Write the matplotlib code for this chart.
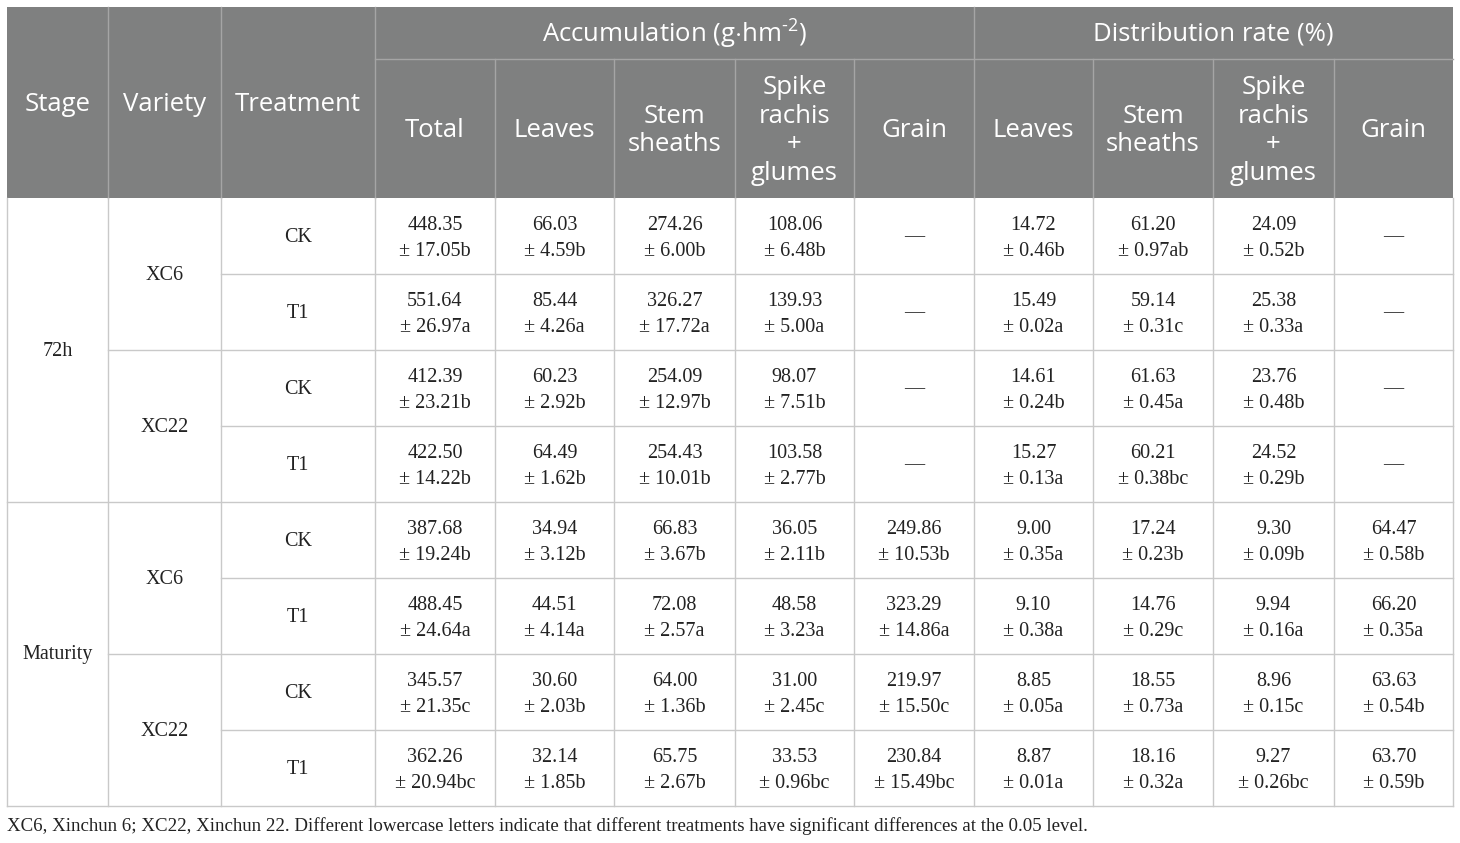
import numpy as np
import matplotlib.pyplot as plt
from matplotlib.patches import Rectangle

plt.rcParams["mathtext.fontset"] = "custom"
plt.rcParams["mathtext.rm"] = "Open Sans"
plt.rcParams["mathtext.it"] = "Open Sans:italic"

stages = ["72h", "Maturity"]
varieties = ["XC6", "XC22"]
treatments = ["CK", "T1"]

acc_cols = ["Total", "Leaves", "Stem\nsheaths", "Spike\nrachis\n+\nglumes", "Grain"]
dist_cols = ["Leaves", "Stem\nsheaths", "Spike\nrachis\n+\nglumes", "Grain"]

# one row per stage/variety/treatment, value ± sd + letter ; None = dash
total = [("448.35", "17.05b"), ("551.64", "26.97a"), ("412.39", "23.21b"), ("422.50", "14.22b"),
         ("387.68", "19.24b"), ("488.45", "24.64a"), ("345.57", "21.35c"), ("362.26", "20.94bc")]
leaves = [("66.03", "4.59b"), ("85.44", "4.26a"), ("60.23", "2.92b"), ("64.49", "1.62b"),
          ("34.94", "3.12b"), ("44.51", "4.14a"), ("30.60", "2.03b"), ("32.14", "1.85b")]
stem = [("274.26", "6.00b"), ("326.27", "17.72a"), ("254.09", "12.97b"), ("254.43", "10.01b"),
        ("66.83", "3.67b"), ("72.08", "2.57a"), ("64.00", "1.36b"), ("65.75", "2.67b")]
spike = [("108.06", "6.48b"), ("139.93", "5.00a"), ("98.07", "7.51b"), ("103.58", "2.77b"),
         ("36.05", "2.11b"), ("48.58", "3.23a"), ("31.00", "2.45c"), ("33.53", "0.96bc")]
grain = [None, None, None, None,
         ("249.86", "10.53b"), ("323.29", "14.86a"), ("219.97", "15.50c"), ("230.84", "15.49bc")]
leaves_pct = [("14.72", "0.46b"), ("15.49", "0.02a"), ("14.61", "0.24b"), ("15.27", "0.13a"),
              ("9.00", "0.35a"), ("9.10", "0.38a"), ("8.85", "0.05a"), ("8.87", "0.01a")]
stem_pct = [("61.20", "0.97ab"), ("59.14", "0.31c"), ("61.63", "0.45a"), ("60.21", "0.38bc"),
            ("17.24", "0.23b"), ("14.76", "0.29c"), ("18.55", "0.73a"), ("18.16", "0.32a")]
spike_pct = [("24.09", "0.52b"), ("25.38", "0.33a"), ("23.76", "0.48b"), ("24.52", "0.29b"),
             ("9.30", "0.09b"), ("9.94", "0.16a"), ("8.96", "0.15c"), ("9.27", "0.26bc")]
grain_pct = [None, None, None, None,
             ("64.47", "0.58b"), ("66.20", "0.35a"), ("63.63", "0.54b"), ("63.70", "0.59b")]

note = ("XC6, Xinchun 6; XC22, Xinchun 22. Different lowercase letters indicate that "
        "different treatments have significant differences at the 0.05 level.")

# layout (pixels)
xs = [7, 108, 221, 375, 495, 614, 735, 854, 974, 1093, 1213, 1334, 1453]
y_top, y_mid, y_head = 7, 59, 198
row_h = 76
header_bg = "#7f8080"
line_c = "#c9c9c9"

fig = plt.figure(figsize=(14.6, 8.43), dpi=100)
ax = fig.add_axes([0, 0, 1, 1])
ax.set_xlim(0, 1460)
ax.set_ylim(843, 0)
ax.axis("off")

hfont = dict(family="Open Sans", color="white", fontsize=18.5, ha="center", va="center")
bfont = dict(family="Liberation Serif", color="#222222", fontsize=14.5, ha="center", va="center")

# header background
ax.add_patch(Rectangle((xs[0], y_top), xs[-1] - xs[0], y_head - y_top, color=header_bg, lw=0))
hl = dict(color="#a5a5a5", lw=1)
for x in xs[1:4]:
    ax.plot([x, x], [y_top, y_head], **hl)
ax.plot([xs[8], xs[8]], [y_top, y_head], **hl)
for x in xs[4:8] + xs[9:12]:
    ax.plot([x, x], [y_mid, y_head], **hl)
ax.plot([xs[3], xs[-1]], [y_mid, y_mid], **hl)

for i, lab in enumerate(["Stage", "Variety", "Treatment"]):
    ax.text((xs[i] + xs[i + 1]) / 2, (y_top + y_head) / 2 + 2, lab, **hfont)
ax.text((xs[3] + xs[8]) / 2, (y_top + y_mid) / 2 + 1,
        r"Accumulation (g$\cdot$hm$^{\text{-2}}$)", **hfont)
ax.text((xs[8] + xs[12]) / 2, (y_top + y_mid) / 2 + 1, "Distribution rate (%)", **hfont)
for j, lab in enumerate(acc_cols + dist_cols):
    ax.text((xs[3 + j] + xs[4 + j]) / 2, (y_mid + y_head) / 2 + 2, lab,
            linespacing=1.18, **hfont)

# body
n = len(total)
y_bot = y_head + n * row_h
for x in xs:
    ax.plot([x, x], [y_head, y_bot], color=line_c, lw=1)
for r in range(1, n + 1):
    y = y_head + r * row_h
    if r % 4 == 0:
        x0 = xs[0]
    elif r % 2 == 0:
        x0 = xs[1]
    else:
        x0 = xs[2]
    ax.plot([x0, xs[-1]], [y, y], color=line_c, lw=1)

for s, st in enumerate(stages):
    ax.text((xs[0] + xs[1]) / 2, y_head + (s * 4 + 2) * row_h + 1, st, **bfont)
    for v, va in enumerate(varieties):
        ax.text((xs[1] + xs[2]) / 2, y_head + (s * 4 + v * 2 + 1) * row_h + 1, va, **bfont)

cols = [total, leaves, stem, spike, grain, leaves_pct, stem_pct, spike_pct, grain_pct]
for r in range(n):
    yc = y_head + (r + 0.5) * row_h
    ax.text((xs[2] + xs[3]) / 2, yc + 1, treatments[r % 2], **bfont)
    for j, col in enumerate(cols):
        xc = (xs[3 + j] + xs[4 + j]) / 2
        cell = col[r]
        if cell is None:
            ax.text(xc, yc + 1, "\u2014", **bfont)
        else:
            ax.text(xc, yc - 11, cell[0], **bfont)
            ax.text(xc, yc + 16, "\u00b1 " + cell[1], **bfont)

ax.text(7, 826, note, family="Liberation Serif", color="#222222", fontsize=13.6,
        ha="left", va="center")

plt.savefig("out.png", dpi=100)
